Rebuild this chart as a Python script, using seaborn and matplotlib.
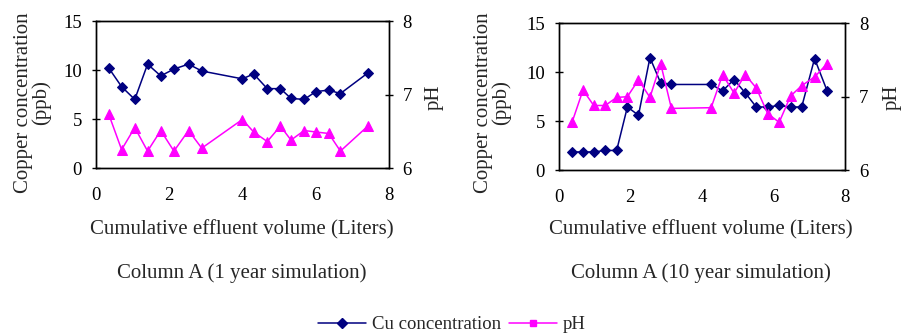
import matplotlib
matplotlib.use("Agg")
import matplotlib.pyplot as plt
import seaborn as sns
from matplotlib.lines import Line2D

# Column A, 1 year simulation
vol_1yr = [0.35, 0.70, 1.06, 1.41, 1.77, 2.13, 2.53, 2.89, 4.00, 4.31,
           4.68, 5.04, 5.33, 5.69, 6.01, 6.36, 6.68, 7.43]
cu_1yr = [10.2, 8.3, 7.0, 10.6, 9.4, 10.1, 10.6, 9.9, 9.1, 9.6,
          8.1, 8.1, 7.1, 7.0, 7.8, 7.95, 7.6, 9.7]
ph_1yr = [6.73, 6.25, 6.55, 6.23, 6.51, 6.23, 6.51, 6.27, 6.66, 6.49,
          6.36, 6.57, 6.38, 6.51, 6.49, 6.47, 6.23, 6.57]

# Column A, 10 year simulation
vol_10yr = [0.38, 0.68, 0.98, 1.30, 1.62, 1.92, 2.23, 2.55, 2.85, 3.15,
            4.26, 4.58, 4.90, 5.21, 5.52, 5.84, 6.16, 6.48, 6.79, 7.15, 7.50]
cu_10yr = [1.85, 1.85, 1.85, 2.0, 2.0, 6.45, 5.6, 11.5, 8.9, 8.75,
           8.75, 8.1, 9.25, 7.9, 6.45, 6.45, 6.6, 6.45, 6.45, 11.4, 8.1]
ph_10yr = [6.66, 7.09, 6.88, 6.88, 6.99, 7.00, 7.23, 6.99, 7.45, 6.84,
           6.85, 7.30, 7.05, 7.30, 7.12, 6.77, 6.65, 7.01, 7.15, 7.27, 7.45]

titles = ["Column A (1 year simulation)", "Column A (10 year simulation)"]

sns.set_style("white")
plt.rcParams["font.family"] = ["Liberation Serif", "DejaVu Serif"]
FS = 15      # axis labels / captions
TFS = 13.5   # tick labels and legend
NAVY = "#000080"
MAGENTA = "#FF00FF"

fig = plt.figure(figsize=(9.09, 3.34), dpi=100)
boxes = [[0.1056, 0.497, 0.322, 0.440], [0.6146, 0.491, 0.315, 0.439]]
label_x = [0.036, 0.542]
ph_x = [0.478, 0.981]
center_x = [0.266, 0.771]

datasets = [(vol_1yr, cu_1yr, ph_1yr), (vol_10yr, cu_10yr, ph_10yr)]

for i, (vol, cu, ph) in enumerate(datasets):
    ax = fig.add_axes(boxes[i])
    ax2 = ax.twinx()
    sns.lineplot(x=vol, y=cu, ax=ax, color=NAVY, marker="D", markersize=5.5,
                 markeredgecolor=NAVY, linewidth=1.1, legend=False)
    sns.lineplot(x=vol, y=ph, ax=ax2, color=MAGENTA, marker="^", markersize=7,
                 markeredgecolor=MAGENTA, linewidth=1.1, legend=False)
    ax.set_xlim(0, 8)
    ax.set_ylim(0, 15)
    ax2.set_ylim(6, 8)
    ax.set_xticks([0, 2, 4, 6, 8])
    ax.set_yticks([0, 5, 10, 15])
    ax2.set_yticks([6, 7, 8])
    ax.tick_params(axis="x", direction="inout", length=6, width=1, pad=11,
                   labelsize=TFS, colors="black")
    ax.tick_params(axis="y", direction="inout", length=6, width=1, pad=7,
                   labelsize=TFS, colors="black")
    ax2.tick_params(axis="y", direction="inout", length=6, width=1, pad=7,
                    labelsize=TFS, colors="black")
    for a in (ax, ax2):
        for sp in a.spines.values():
            sp.set_color("black")
            sp.set_linewidth(1.0)
            sp.set_visible(True)
    ax.set_xlabel("")
    ax.set_ylabel("")
    fig.text(label_x[i], 0.692, "Copper concentration\n(ppb)", rotation=90,
             ha="center", va="center", fontsize=FS, linespacing=0.9)
    fig.text(ph_x[i], 0.71, "pH", rotation=90, ha="center", va="center",
             fontsize=FS)
    fig.text(center_x[i], 0.311, "Cumulative effluent volume (Liters)",
             ha="center", va="center", fontsize=FS)
    fig.text(center_x[i], 0.183, titles[i], ha="center", va="center",
             fontsize=FS)

handles = [
    Line2D([0], [0], color=NAVY, marker="D", markersize=5, lw=1.1,
           label="Cu concentration"),
    Line2D([0], [0], color=MAGENTA, marker="s", markersize=5, lw=1.1,
           label="pH"),
]
fig.legend(handles=handles, loc="center", bbox_to_anchor=(0.497, 0.028),
           ncol=2, frameon=False, fontsize=TFS, handlelength=2.6,
           handletextpad=0.3, columnspacing=0.4, borderpad=0)

fig.savefig("out.png", dpi=100)
